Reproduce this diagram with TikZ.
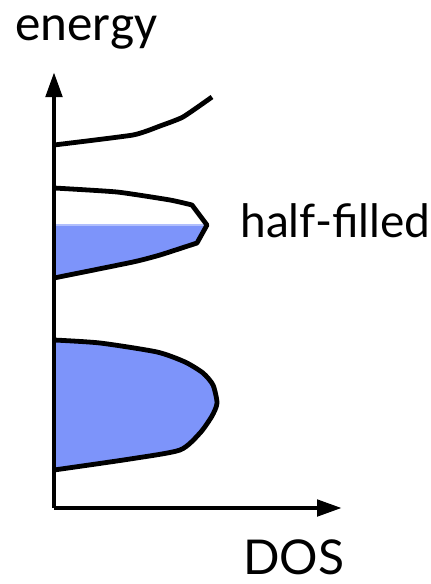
\documentclass[tikz,border=0pt]{standalone}
\usepackage{fontspec}
\setmainfont{Lato}
\newfontfamily\energyfont{Carlito}
\usetikzlibrary{arrows.meta, positioning}
\definecolor{bandblue}{RGB}{125,148,250}

\begin{document}
\begin{tikzpicture}[
    x=0.5pt, y=-0.5pt,
    axis/.style={-{Triangle[length=12.5pt, width=8pt]}, line width=2.4pt},
    band/.style={line width=2.4pt, line join=round},
    label/.style={inner sep=0pt, anchor=base west, font=\fontsize{23}{26}\selectfont},
]
\useasboundingbox (0,0) rectangle (431,584);

% Axes
\coordinate (origin) at (54,508);
\coordinate (etip) at (54,72);
\coordinate (dtip) at (342,508);

% Filled part of the middle band
\fill[bandblue] (54,225) -- (207,225) -- (197,243) -- (133,262) -- (54,278) -- cycle;
\draw[bandblue!60, line width=0.6pt] (54,225) -- (207,225);

% Lower band (filled)
\filldraw[band, fill=bandblue] plot[smooth, tension=0.4] coordinates {
    (54,340) (100,343) (157,352) (185,362) (203,373) (213,385) (217,403)
    (212,416) (200,433) (180,450) (130,459) (54,470)};

% Middle band (half-filled)
\draw[band] plot[smooth, tension=0.3] coordinates {
    (54,188) (117,192) (170,200) (192,205)} -- (207,225) -- (197,243)
    -- plot[smooth, tension=0.3] coordinates {(197,243) (160,255) (133,262) (54,278)};

% Upper band
\draw[band] plot[smooth, tension=0.3] coordinates {
    (54,145) (133,135) (160,126) (183,117) (212,97)};

\draw[axis] (origin) -- (etip);
\draw[axis] (origin) -- (dtip);

% Labels
\node[label, font=\energyfont\fontsize{25.5}{28}\selectfont] (energy) at (15,40) {energy};
\node[label] (half) at (240,237) {half-filled};
\node[label, font=\fontsize{24}{27}\selectfont] (dos) at (243,574) {DOS};

\end{tikzpicture}
\end{document}
